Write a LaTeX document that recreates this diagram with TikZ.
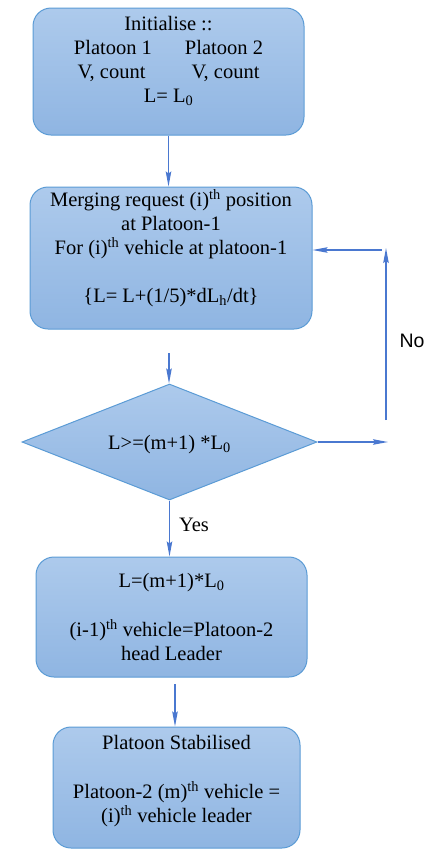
\documentclass[tikz,border=0pt]{standalone}
\usepackage{fontspec}
\setmainfont{Liberation Serif}
\newfontfamily\nofont{Liberation Sans}
\usetikzlibrary{arrows.meta}
\usetikzlibrary{shapes.geometric}
\definecolor{boxtop}{HTML}{ADCAEC}
\definecolor{boxbot}{HTML}{8FB5E2}
\definecolor{boxline}{HTML}{5B9BD5}
\definecolor{flowblue}{HTML}{4A78D0}

\begin{document}
\begin{tikzpicture}[x=1pt, y=-1pt, >={Stealth[length=15pt,width=5.5pt,inset=2pt]},
  block/.style={rectangle, rounded corners=18pt, draw=boxline, line width=1pt,
    top color=boxtop, bottom color=boxbot, align=center, inner sep=0pt,
    font=\fontsize{20.5}{24}\selectfont},
  decide/.style={diamond, aspect=2.54, draw=boxline, line width=1pt, top color=boxtop,
    bottom color=boxbot, inner sep=0pt, font=\fontsize{20.5}{24}\selectfont},
  flow/.style={->, draw=flowblue, line width=1.3pt}]
\useasboundingbox (0,0) rectangle (445,863);
\node[block, minimum width=271pt, minimum height=127pt] (init) at (168.5,71.5)
  {Initialise ::\\ Platoon 1\hspace{33pt}Platoon 2\\
   V, count\hspace{46pt}V, count\\ L= L\textsubscript{0}\\[-6pt] \strut};
\node[block, minimum width=282pt, minimum height=142pt] (merge) at (171,258)
  {Merging request (i)\textsuperscript{th} position\\ at Platoon-1\\
   For (i)\textsuperscript{th} vehicle at platoon-1\\ \strut\\
   \{L= L+(1/5)*dL\textsubscript{h}/dt\}\\[-7pt] \strut};
\node[decide, minimum width=295pt, minimum height=116pt, text height=20pt,
  text depth=4.5pt] (check) at (169.5,442) {L>=(m+1) *L\textsubscript{0}};
\node[block, minimum width=271pt, minimum height=120pt] (join) at (171.5,617)
  {L=(m+1)*L\textsubscript{0}\\ \strut\\
   (i-1)\textsuperscript{th} vehicle=Platoon-2\\ head Leader};
\node[block, minimum width=247pt, minimum height=121pt] (stable) at (176.5,787.5)
  {Platoon Stabilised\\ \strut\\ Platoon-2 (m)\textsuperscript{th} vehicle =\\
   (i)\textsuperscript{th} vehicle leader\\[-14pt] \strut};

\coordinate (gap2) at (169,353);
\coordinate (gap4) at (175,684);
\coordinate (loopa) at (386,420);
\coordinate (loopb) at (386,248);
\coordinate (loopc) at (382,250);
\coordinate (noend) at (388,446);

\draw[flow] (init.south) -- (init.south |- merge.north);
\draw[flow] (gap2) -- (gap2 |- check.north);
\draw[flow] (check.south) -- (check.south |- join.north);
\draw[flow] (gap4) -- (gap4 |- stable.north);
\draw[flow] (check.east) -- (check.east -| noend);
\draw[flow] (loopa) -- (loopb);
\draw[flow] (loopc) -- (loopc -| merge.east);

\node[font=\nofont\fontsize{19.5}{22}\selectfont] (nolabel) at (412,341) {No};
\node[font=\fontsize{20.5}{24}\selectfont] (yeslabel) at (194,525) {Yes};
\end{tikzpicture}
\end{document}
